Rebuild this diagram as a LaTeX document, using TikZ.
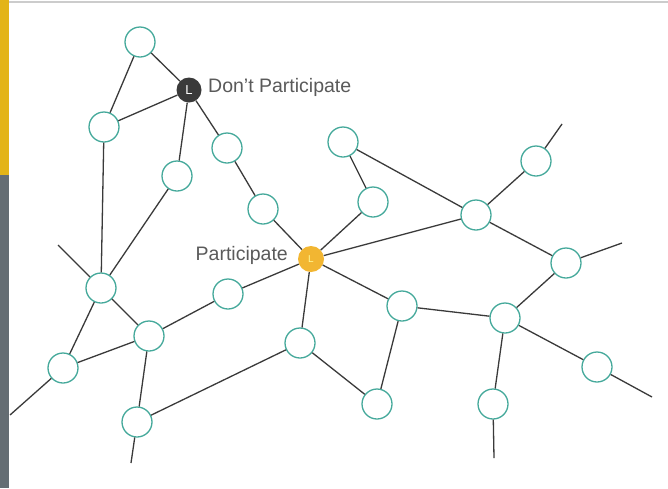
\documentclass[tikz,border=0pt]{standalone}
\usepackage{fontspec}
\setmainfont{Liberation Sans}
\definecolor{tealOne}{HTML}{45A99B}
\definecolor{edgeCol}{HTML}{3A3A3A}
\definecolor{barYellow}{HTML}{E3B417}
\definecolor{barGray}{HTML}{646D73}
\definecolor{darkNode}{HTML}{3A3A3A}
\definecolor{yelNode}{HTML}{F2B632}
\definecolor{txtCol}{HTML}{5A5A5A}
\begin{document}
\begin{tikzpicture}[x=1pt,y=-1pt,
  nd/.style={circle,draw=tealOne,line width=1.3pt,fill=white,minimum size=30pt,inner sep=0pt},
  ed/.style={draw=edgeCol,line width=1.3pt},
  lbl/.style={text=txtCol,font=\fontsize{19.5}{21}\selectfont,inner sep=0pt}]
\useasboundingbox (0,0) rectangle (668,488);
\fill[white] (0,0) rectangle (668,488);
\fill[barYellow] (0,0) rectangle (9,175);
\fill[barGray] (0,175) rectangle (9,488);
\draw[gray!40,line width=2pt] (9,2) -- (668,2);
% nodes
\node[nd] (n1) at (140,42) {};
\node[circle,fill=darkNode,minimum size=25pt,inner sep=0pt,text=white,font=\fontsize{13}{14}\selectfont] (L) at (189,90) {L};
\node[nd] (n2) at (104,127) {};
\node[nd] (n3) at (227,148) {};
\node[nd] (n4) at (177,176) {};
\node[nd] (n5) at (263,209) {};
\node[nd] (n6) at (343,142) {};
\node[nd] (n7) at (373,202) {};
\node[nd] (n8) at (476,215) {};
\node[nd] (n9) at (536,161) {};
\node[nd] (n10) at (566,263) {};
\node[circle,fill=yelNode,minimum size=26pt,inner sep=0pt,text=yellow!40,font=\fontsize{10}{11}\selectfont] (P) at (311,259) {L};
\node[nd] (n11) at (228,294) {};
\node[nd] (n12) at (101,288) {};
\node[nd] (n13) at (149,336) {};
\node[nd] (n14) at (63,368) {};
\node[nd] (n15) at (402,306) {};
\node[nd] (n16) at (505,318) {};
\node[nd] (n17) at (300,343) {};
\node[nd] (n18) at (597,367) {};
\node[nd] (n19) at (377,404) {};
\node[nd] (n20) at (493,404) {};
\node[nd] (n21) at (137,422) {};
% free ends
\coordinate (f1) at (562,124);
\coordinate (f2) at (622,243);
\coordinate (f3) at (652,397);
\coordinate (f4) at (494,458);
\coordinate (f5) at (131,463);
\coordinate (f6) at (10,415);
\coordinate (f7) at (58,245);
% labels
\node[lbl,anchor=west] (t1) at (208,87) {Don’t Participate};
\node[lbl,anchor=east] (t2) at (288,255) {Participate};
% edges
\path[ed] (n1)--(L) (n1)--(n2) (L)--(n2) (L)--(n4) (L)--(n3) (n3)--(n5) (n5)--(P)
 (n6)--(n7) (n7)--(P) (n6)--(n8) (P)--(n8) (n8)--(n9) (n9)--(f1) (n8)--(n10) (n10)--(f2)
 (n10)--(n16) (P)--(n15) (n15)--(n16) (n15)--(n19) (n16)--(n18) (n18)--(f3) (n16)--(n20) (n20)--(f4)
 (P)--(n17) (n17)--(n19) (n17)--(n21) (n21)--(n13) (n21)--(f5) (n13)--(n11) (n11)--(P)
 (n13)--(n12) (n12)--(n14) (n14)--(n13) (n14)--(f6) (n12)--(f7) (n12)--(n2) (n12)--(n4);
\end{tikzpicture}
\end{document}
